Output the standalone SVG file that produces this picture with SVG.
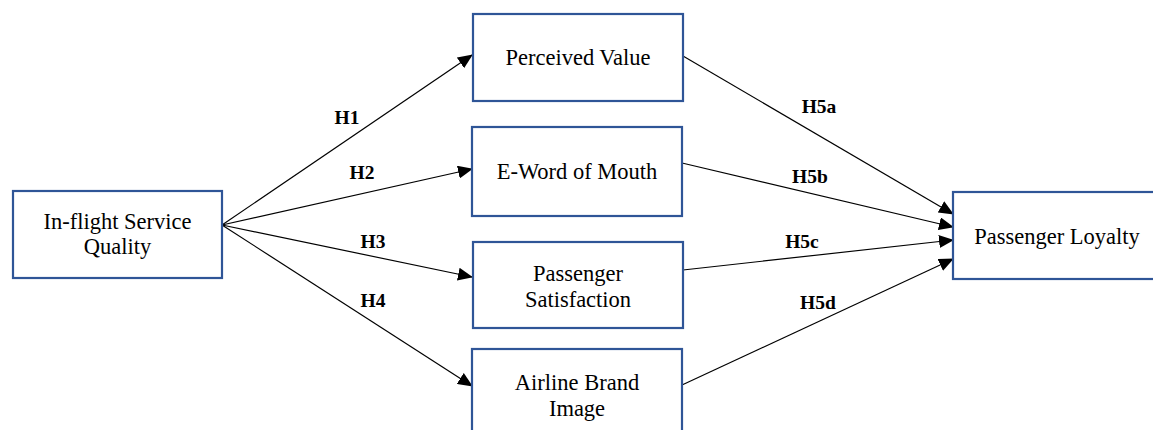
<svg xmlns="http://www.w3.org/2000/svg" width="1153" height="430" viewBox="0 0 1153 430">
<style>
.box{fill:#fff;stroke:#2F5597;stroke-width:2.2}
.t{font-family:"Liberation Serif","Times New Roman",serif;font-size:22.5px;fill:#000;text-anchor:middle}
.h{font-family:"Liberation Serif","Times New Roman",serif;font-size:19.5px;font-weight:bold;fill:#000;text-anchor:middle}
.c{stroke:#000;stroke-width:1.2;fill:none;marker-end:url(#ah)}
</style>
<defs>
<marker id="ah" markerWidth="15" markerHeight="13" refX="14" refY="6.5" orient="auto" markerUnits="userSpaceOnUse">
<path d="M0,0 L15,6.5 L0,13 Z" fill="#000"/>
</marker>
</defs>
<rect width="1153" height="430" fill="#fff"/>
<g id="connectors">
<line class="c" x1="222" y1="225" x2="472" y2="55"/>
<line class="c" x1="222" y1="225" x2="472" y2="169"/>
<line class="c" x1="222" y1="225" x2="472" y2="277"/>
<line class="c" x1="222" y1="225" x2="472" y2="386"/>
<line class="c" x1="683" y1="56" x2="953" y2="214"/>
<line class="c" x1="682" y1="163" x2="953" y2="227"/>
<line class="c" x1="683" y1="270" x2="953" y2="240"/>
<line class="c" x1="682" y1="385" x2="953" y2="259"/>
<text class="h" x="347" y="124">H1</text>
<text class="h" x="362" y="179">H2</text>
<text class="h" x="373" y="248">H3</text>
<text class="h" x="373" y="307">H4</text>
<text class="h" x="819" y="113">H5a</text>
<text class="h" x="810" y="183">H5b</text>
<text class="h" x="802" y="248">H5c</text>
<text class="h" x="818" y="309">H5d</text>
</g>
<g id="n-isq">
<rect class="box" x="13" y="191" width="209" height="87"/>
<text class="t" x="117.5" y="229">In-flight Service</text>
<text class="t" x="117.5" y="254">Quality</text>
</g>
<g id="n-pv">
<rect class="box" x="473" y="14" width="210" height="87"/>
<text class="t" x="578" y="65">Perceived Value</text>
</g>
<g id="n-ewom">
<rect class="box" x="472" y="127" width="210" height="89"/>
<text class="t" x="577" y="179">E-Word of Mouth</text>
</g>
<g id="n-ps">
<rect class="box" x="473" y="242" width="210" height="86"/>
<text class="t" x="578" y="281">Passenger</text>
<text class="t" x="578" y="307">Satisfaction</text>
</g>
<g id="n-abi">
<rect class="box" x="472" y="349" width="210" height="90"/>
<text class="t" x="577" y="390">Airline Brand</text>
<text class="t" x="577" y="416">Image</text>
</g>
<g id="n-pl">
<rect class="box" x="953" y="192" width="206" height="87"/>
<text class="t" x="1057" y="244">Passenger Loyalty</text>
</g>
</svg>
